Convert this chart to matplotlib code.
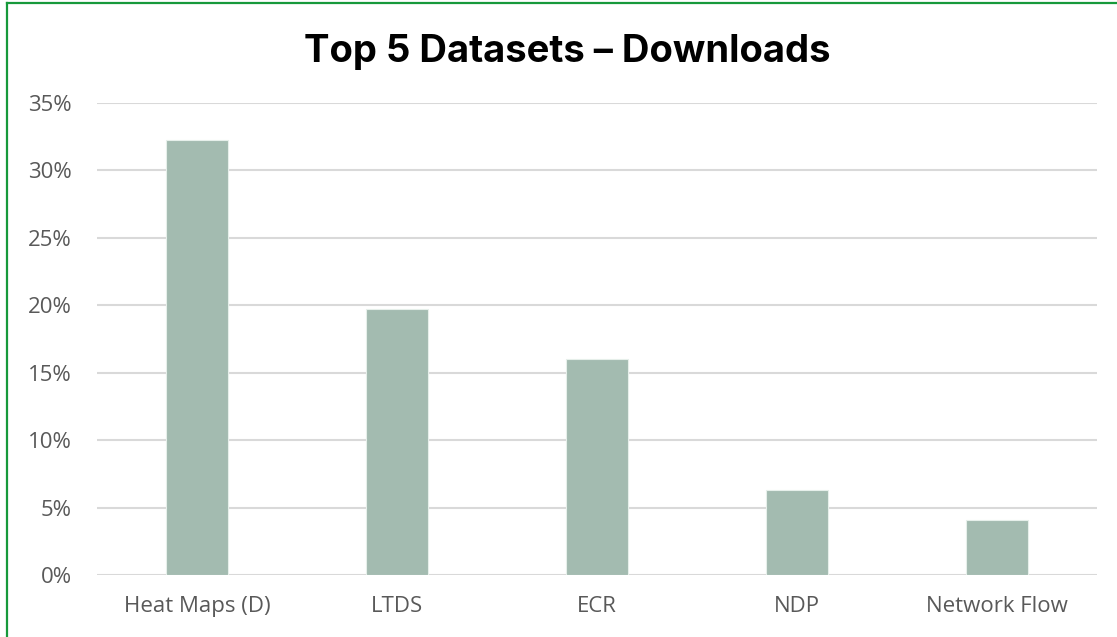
import matplotlib.pyplot as plt
from matplotlib.lines import Line2D
from matplotlib.ticker import PercentFormatter

# data
categories = ["Heat Maps (D)", "LTDS", "ECR", "NDP", "Network Flow"]
downloads_share = [0.3225, 0.1972, 0.160, 0.0633, 0.0408]
y_ticks = [0.0, 0.05, 0.10, 0.15, 0.20, 0.25, 0.30, 0.35]

bar_color = "#a3bbb0"
text_color = "#595959"
grid_color = "#d9d9d9"
border_color = "#17993b"

plt.rcParams["font.family"] = ["Open Sans", "DejaVu Sans"]

fig = plt.figure(figsize=(11.17, 6.37), dpi=100)
ax = fig.add_axes([0.0868, 0.0973, 0.8952, 0.7410])

x = range(len(categories))
ax.bar(x, downloads_share, width=0.31, color=bar_color,
       edgecolor="#e6efea", linewidth=0.8, zorder=3)

ax.set_xlim(-0.5, len(categories) - 0.5)
ax.set_ylim(0, 0.35)
ax.set_yticks(y_ticks)
ax.yaxis.set_major_formatter(PercentFormatter(1.0, decimals=0))
ax.set_xticks(list(x))
ax.set_xticklabels(categories)

ax.grid(axis="y", color=grid_color, linewidth=1.5, zorder=0)
for side in ("top", "right", "left", "bottom"):
    ax.spines[side].set_visible(False)
ax.tick_params(axis="both", length=0, labelsize=16, colors=text_color)
ax.tick_params(axis="x", pad=15)
ax.tick_params(axis="y", pad=18)

fig.text(0.5076, 0.9027, "Top 5 Datasets \u2013 Downloads", ha="center", va="baseline",
         fontsize=27.5, fontweight="bold", color="black", family=["Inter", "DejaVu Sans"])

# green frame (left and top edges visible in the reference)
fig.add_artist(Line2D([0.0063, 0.0063], [0.0, 0.996], transform=fig.transFigure,
                      color=border_color, linewidth=1.6))
fig.add_artist(Line2D([0.0063, 1.0], [0.996, 0.996], transform=fig.transFigure,
                      color=border_color, linewidth=1.6))

fig.savefig("out.png", dpi=100)
plt.close(fig)
